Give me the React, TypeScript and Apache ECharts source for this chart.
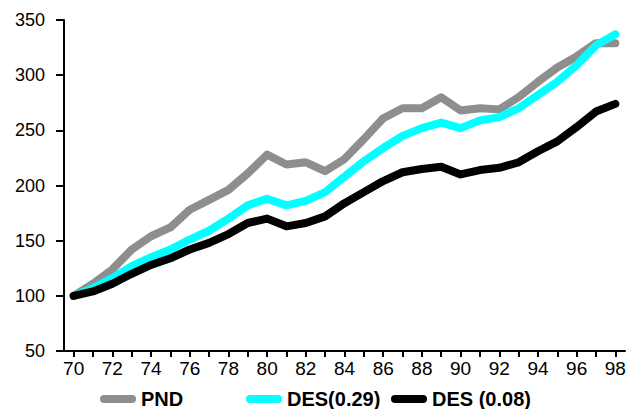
import React, { useEffect, useRef } from "react";
import * as echarts from "echarts";

const years = ["70","71","72","73","74","75","76","77","78","79","80","81","82","83","84","85","86","87","88","89","90","91","92","93","94","95","96","97","98"];
const pnd = [100,111,124,142,154,162,178,187,196,211,228,219,221,213,224,242,261,270,270,280,268,270,269,280,294,307,317,329,329];
const des029 = [100,107,116,127,135,142,151,159,170,182,188,182,186,194,208,222,234,245,252,257,252,259,262,270,282,294,309,327,337];
const des008 = [100,104,111,120,128,134,142,148,156,166,170,163,166,172,184,194,204,212,215,217,210,214,216,221,231,240,253,267,274];

const names = ["PND", "DES(0.29)", "DES (0.08)"];
const colors = ["#8E8E8E", "#00FFFF", "#000000"];
const seriesData = [pnd, des029, des008];

const ICON = "path://M4,0 L32,0 A4,4 0 0 1 32,8 L4,8 A4,4 0 0 1 4,0 Z";

export default function App() {
  const ref = useRef<HTMLDivElement>(null);
  useEffect(() => {
    if (!ref.current) return;
    const chart = echarts.init(ref.current, null, { renderer: "svg" });
    const font = "'Liberation Sans', Arial, sans-serif";
    const legendLefts = [100, 246, 391];
    chart.setOption({
      animation: false,
      backgroundColor: "#ffffff",
      grid: { left: 64, right: 10, top: 20, bottom: 58 },
      legend: names.map((n, i) => ({
        data: [{ name: n, icon: ICON }],
        left: legendLefts[i],
        top: 389,
        padding: 0,
        itemWidth: 36,
        itemHeight: 8,
        itemGap: 0,
        selectedMode: false,
        textStyle: { fontFamily: font, fontSize: 20, fontWeight: "bold", color: "#000", lineHeight: 20 },
      })),
      xAxis: {
        type: "category",
        data: years,
        boundaryGap: true,
        axisLine: { show: true, lineStyle: { color: "#000", width: 2 } },
        axisTick: { show: true, alignWithLabel: true, interval: 0, length: 6, lineStyle: { color: "#000", width: 2 } },
        axisLabel: { interval: 1, margin: 8, fontFamily: font, fontSize: 19, color: "#000" },
        splitLine: { show: false },
      },
      yAxis: {
        type: "value",
        min: 50,
        max: 350,
        interval: 50,
        axisLine: { show: true, lineStyle: { color: "#000", width: 2 } },
        axisTick: { show: true, length: 8, lineStyle: { color: "#000", width: 2 } },
        axisLabel: { margin: 19, fontFamily: font, fontSize: 18, color: "#000" },
        splitLine: { show: false },
      },
      series: names.map((n, i) => ({
        name: n,
        type: "line",
        data: seriesData[i],
        symbol: "none",
        smooth: false,
        color: colors[i],
        itemStyle: { color: colors[i] },
        lineStyle: { color: colors[i], width: 8, cap: "round", join: "round" },
      })),
    });
    return () => chart.dispose();
  }, []);
  return (
    <div
      ref={ref}
      style={{ position: "fixed", left: 0, top: 0, width: 635, height: 409 }}
    />
  );
}
